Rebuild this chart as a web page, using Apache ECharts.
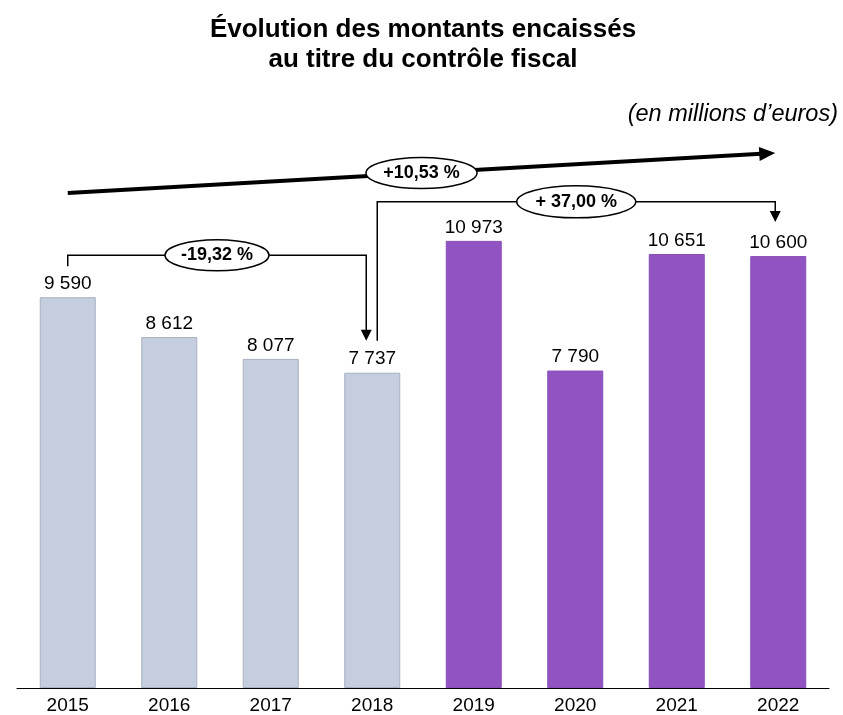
<!DOCTYPE html>
<html>
<head>
<meta charset="utf-8">
<script src="https://cdn.jsdelivr.net/npm/echarts@6/dist/echarts.min.js"></script>
<style>
  html, body { margin: 0; padding: 0; background: #fff; }
  #main { width: 843px; height: 715px; }
</style>
</head>
<body>
<div id="main"></div>
<script>
// data
const years = ['2015', '2016', '2017', '2018', '2019', '2020', '2021', '2022'];
const amounts = [9590, 8612, 8077, 7737, 10973, 7790, 10651, 10600];
const changeLabels = ['-19,32 %', '+ 37,00 %', '+10,53 %'];

const FONT = '"Liberation Sans", Arial, sans-serif';
const GREY = '#C4CEDF';
const PURPLE = '#9153C1';

const fmt = v => String(v).replace(/\B(?=(\d{3})+(?!\d))/g, ' ');

const chart = echarts.init(document.getElementById('main'));

chart.setOption({
  animation: false,
  title: [
    {
      text: 'Évolution des montants encaissés\nau titre du contrôle fiscal',
      left: 423,
      top: 15,
      padding: 0,
      textAlign: 'center',
      textStyle: { fontFamily: FONT, fontSize: 26, fontWeight: 'bold', color: '#000', lineHeight: 30 },
    },
    {
      text: '(en millions d\u2019euros)',
      right: 5,
      top: 103,
      padding: 0,
      textStyle: { fontFamily: FONT, fontSize: 23.5, fontStyle: 'italic', fontWeight: 'normal', color: '#000' },
    },
  ],
  grid: { left: 17, right: 14, top: 199, bottom: 27 },
  xAxis: {
    type: 'category',
    data: years,
    axisLine: { lineStyle: { color: '#000', width: 1 } },
    axisTick: { show: false },
    axisLabel: { fontFamily: FONT, fontSize: 19, color: '#000', margin: 8 },
  },
  yAxis: {
    type: 'value',
    min: 0,
    max: 12000,
    show: false,
    splitLine: { show: false },
  },
  series: [
    {
      type: 'bar',
      barWidth: 56,
      data: amounts.map((v, i) => ({
        value: v,
        itemStyle: {
          color: Number(years[i]) < 2019 ? GREY : PURPLE,
          borderColor: Number(years[i]) < 2019 ? '#A9B1C0' : '#8A4FB8',
          borderWidth: 1,
        },
      })),
      label: {
        show: true,
        position: 'top',
        distance: 4,
        fontFamily: FONT,
        fontSize: 19,
        color: '#000',
        formatter: p => fmt(p.value),
      },
    },
  ],
});

// annotations placed from the bars' own pixel positions
const px = (i, v) => chart.convertToPixel({ seriesIndex: 0 }, [i, v]);
const xAt = i => px(i, 0)[0];
const topAt = i => px(i, amounts[i])[1];
const gridTop = px(0, 12000)[1];

function downArrow(x, tipY) {
  return {
    type: 'polygon', z: 10,
    shape: { points: [[x - 5.5, tipY - 11], [x + 5.5, tipY - 11], [x, tipY]] },
    style: { fill: '#000' },
  };
}
function bubble(cx, cy, rx, ry, text) {
  return [
    { type: 'ellipse', z: 20, shape: { cx, cy, rx, ry }, style: { fill: '#fff', stroke: '#000', lineWidth: 1.5 } },
    {
      type: 'text', z: 21, x: cx, y: cy,
      style: { text, fill: '#000', font: 'bold 18px ' + FONT, textAlign: 'center', textVerticalAlign: 'middle' },
    },
  ];
}

const g = [];

// 2015 -> 2018
const b1x0 = xAt(0), b1x1 = xAt(3) - 6;
const b1y = topAt(0) - 42, b1tip = topAt(3) - 32;
g.push({
  type: 'polyline', z: 10,
  shape: { points: [[b1x0, topAt(0) - 31], [b1x0, b1y], [b1x1, b1y], [b1x1, b1tip - 10]] },
  style: { stroke: '#000', lineWidth: 1.5, fill: null },
});
g.push(downArrow(b1x1, b1tip));
g.push(...bubble((b1x0 + b1x1) / 2, b1y, 52, 15.5, changeLabels[0]));

// 2018 -> 2022
const b2x0 = xAt(3) + 5, b2x1 = xAt(7) - 3;
const b2y = topAt(4) - 39, b2tip = topAt(7) - 34;
g.push({
  type: 'polyline', z: 10,
  shape: { points: [[b2x0, b1tip], [b2x0, b2y], [b2x1, b2y], [b2x1, b2tip - 10]] },
  style: { stroke: '#000', lineWidth: 1.5, fill: null },
});
g.push(downArrow(b2x1, b2tip));
g.push(...bubble((b2x0 + b2x1) / 2, b2y, 59.5, 16, changeLabels[1]));

// overall trend 2015 -> 2022
const t0 = [xAt(0), gridTop - 6];
const t1 = [xAt(7) - 3, gridTop - 46];
const ang = Math.atan2(t1[1] - t0[1], t1[0] - t0[0]);
const hl = 16, hw = 7;
const base = [t1[0] - hl * Math.cos(ang), t1[1] - hl * Math.sin(ang)];
g.push({
  type: 'line', z: 10,
  shape: { x1: t0[0], y1: t0[1], x2: base[0] + 2 * Math.cos(ang), y2: base[1] + 2 * Math.sin(ang) },
  style: { stroke: '#000', lineWidth: 4 },
});
g.push({
  type: 'polygon', z: 10,
  shape: {
    points: [
      t1,
      [base[0] - hw * Math.sin(ang), base[1] + hw * Math.cos(ang)],
      [base[0] + hw * Math.sin(ang), base[1] - hw * Math.cos(ang)],
    ],
  },
  style: { fill: '#000' },
});
g.push(...bubble((t0[0] + t1[0]) / 2, (t0[1] + t1[1]) / 2, 55.5, 15.5, changeLabels[2]));

chart.setOption({ graphic: { elements: g } });
</script>
</body>
</html>
